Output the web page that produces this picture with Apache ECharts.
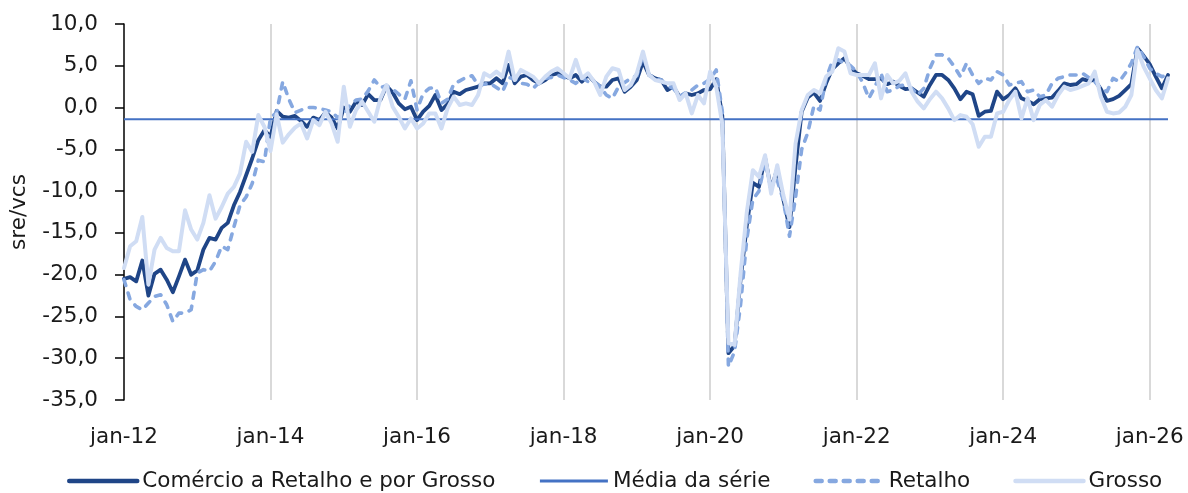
<!DOCTYPE html>
<html>
<head>
<meta charset="utf-8">
<title>Comércio a Retalho e por Grosso</title>
<script src="https://cdn.jsdelivr.net/npm/echarts@6/dist/echarts.min.js"></script>
<style>
    html, body { margin: 0; padding: 0; background: #fff; }
    #main { width: 1188px; height: 493px; }
</style>
</head>
<body>
<div id="main"></div>
<script>
// months jan-12 .. abr-26
const monthNames = ['jan', 'fev', 'mar', 'abr', 'mai', 'jun', 'jul', 'ago', 'set', 'out', 'nov', 'dez'];
const firstYear = 12;
const nMonths = 172;

// Comércio a Retalho e por Grosso (sre/vcs)
const comercioValues = [
    -20.5, -20.3, -20.8, -18.3, -22.5, -19.9, -19.4, -20.6, -22.1, -20.2, -18.2, -20.0,
    -19.5, -17.0, -15.6, -15.8, -14.4, -13.8, -11.7, -10.1, -8.1, -6.1, -3.9, -2.7,
    -3.5, -0.4, -1.1, -1.2, -1.0, -1.6, -2.3, -1.2, -1.5, -0.6, -1.2, -2.5,
    0.0, -0.5, 0.7, 0.3, 1.6, 0.9, 0.9, 2.6, 1.8, 0.5, -0.2, 0.1,
    -1.5, -0.5, 0.2, 1.5, -0.3, 0.4, 1.9, 1.6, 2.1, 2.3, 2.5, 2.9,
    2.9, 3.5, 2.9, 5.1, 2.9, 3.7, 3.9, 3.3, 2.9, 3.3, 3.9, 4.1,
    3.8, 3.5, 3.9, 3.1, 3.9, 3.1, 2.5, 2.5, 3.3, 3.5, 1.9, 2.5,
    3.3, 5.5, 3.9, 3.5, 3.3, 2.1, 2.5, 1.3, 1.7, 1.5, 1.7, 2.1,
    2.2, 3.4, -1.0, -29.4, -28.5, -20.5, -14.2, -9.0, -9.5, -6.0, -9.8, -7.3,
    -11.0, -14.3, -7.0, -0.5, 1.2, 1.8, 0.8, 2.9, 4.6, 5.3, 5.9, 4.8,
    4.1, 3.8, 3.4, 3.4, 3.5, 2.8, 3.1, 2.6, 2.2, 2.3, 1.8, 1.3,
    2.7, 3.9, 3.9, 3.3, 2.3, 1.0, 1.9, 1.6, -1.0, -0.5, -0.4, 1.9,
    1.0, 1.5, 2.3, 1.1, 0.8, 0.4, 1.0, 1.1, 1.2, 2.0, 2.9, 2.7,
    2.8, 3.4, 3.2, 3.3, 2.2, 0.8, 1.0, 1.4, 2.1, 2.8, 7.1, 6.2,
    5.2, 3.7, 2.3, 3.9
];

// Retalho
const retalhoValues = [
    -20.6, -23.0, -23.8, -24.2, -23.4, -22.6, -22.4, -23.6, -25.6, -24.6, -24.6, -24.2,
    -19.8, -19.4, -19.6, -18.4, -16.6, -17.0, -14.3, -11.7, -10.7, -9.1, -6.3, -6.5,
    -1.2, -0.6, 3.1, 1.0, -0.6, -0.3, 0.0, 0.0, -0.1, -0.3, -0.5, -1.2,
    -0.8, 0.3, 0.9, 1.0, 2.0, 3.3, 2.4, 2.6, 2.2, 1.6, 1.0, 3.2,
    -0.3, 1.7, 2.3, 2.4, 0.5, 1.0, 2.8, 3.2, 3.6, 3.8, 2.7, 2.8,
    2.9, 2.4, 1.9, 3.6, 3.4, 2.9, 2.8, 2.3, 3.0, 3.5, 3.6, 3.9,
    3.6, 3.3, 2.9, 3.6, 3.1, 3.1, 2.5, 1.5, 1.1, 2.5, 3.0, 3.5,
    3.8, 6.3, 3.9, 3.5, 3.3, 2.6, 2.3, 1.3, 1.8, 2.1, 2.7, 2.9,
    3.4, 4.5, -0.5, -31.0, -29.2, -23.5, -15.8, -11.0, -10.0, -6.5, -9.5, -8.7,
    -11.1, -15.4, -10.7, -5.0, -3.0, 0.2, -0.3, 3.5, 5.5, 5.7, 5.3, 5.0,
    4.3, 3.0, 1.1, 2.5, 4.1, 1.9, 2.1, 2.6, 2.7, 2.3, 1.5, 2.3,
    4.7, 6.3, 6.3, 5.9, 4.9, 3.7, 5.3, 3.9, 2.9, 3.5, 3.3, 4.3,
    3.9, 2.7, 2.9, 3.1, 1.9, 2.1, 1.3, 1.5, 2.9, 3.5, 3.7, 3.9,
    3.9, 4.1, 3.6, 3.1, 2.3, 1.9, 3.5, 3.1, 4.1, 5.3, 7.3, 6.1,
    4.7, 4.1, 3.7, 3.9
];

// Grosso
const grossoValues = [
    -19.2, -16.6, -16.0, -13.1, -21.2, -17.0, -15.6, -16.8, -17.2, -17.2, -12.3, -14.6,
    -15.8, -13.8, -10.5, -13.3, -11.9, -10.3, -9.5, -7.9, -4.1, -5.3, -0.9, -2.3,
    -5.2, -0.8, -4.2, -3.2, -2.4, -1.9, -3.7, -1.5, -2.1, -0.5, -1.9, -4.1,
    2.5, -2.3, -0.3, 0.7, -0.5, -1.7, 1.1, 2.7, 0.1, -1.1, -2.5, -1.3,
    -2.5, -1.9, -0.7, -0.7, -2.5, -0.1, 1.3, 0.3, 0.5, 0.3, 1.5, 4.1,
    3.7, 4.3, 3.7, 6.7, 3.3, 4.5, 4.1, 3.7, 2.9, 3.7, 4.3, 4.7,
    4.1, 3.5, 5.7, 3.5, 4.1, 3.1, 1.5, 3.7, 4.7, 4.5, 2.1, 2.7,
    4.1, 6.7, 3.9, 3.3, 3.1, 2.9, 2.9, 0.9, 1.7, -0.7, 1.5, 0.5,
    4.3, 2.5, -2.0, -28.2, -28.4, -19.8, -12.6, -7.5, -8.3, -5.7, -10.3, -6.9,
    -10.5, -13.4, -4.3, -0.3, 1.5, 2.1, 1.7, 3.7, 4.3, 7.1, 6.7, 4.1,
    3.9, 3.9, 3.9, 5.3, 1.1, 3.9, 2.9, 3.2, 4.1, 1.9, 0.7, -0.1,
    1.0, 1.9, 1.1, -0.1, -1.5, -0.9, -1.1, -2.0, -4.7, -3.5, -3.5, -0.7,
    -0.5, 0.9, 1.9, -1.3, 1.1, -1.5, 0.3, 0.9, 0.1, 1.5, 2.5, 2.1,
    2.3, 2.6, 2.9, 4.3, 1.3, -0.5, -0.7, -0.6, 0.1, 1.5, 6.9, 4.9,
    3.5, 2.1, 1.1, 3.5
];

// média da série (valor constante)
const mediaSerie = -1.4;

// y axis ticks
const yMin = -35;
const yMax = 10;
const yStep = 5;

let months = [];
for (let i = 0; i < nMonths; i++) {
    let yy = firstYear + Math.floor(i / 12);
    months.push(monthNames[i % 12] + '-' + yy);
}
let mediaValues = months.map(() => mediaSerie);

const fontName = 'DejaVu Sans';
const fontSize = 21.5;
const textColor = '#1a1a1a';

const colors = {
    comercio: '#1f4587',
    media: '#4472c4',
    retalho: '#86a8e0',
    grosso: '#d0ddf4'
};

const option = {
    animation: false,
    backgroundColor: '#fff',
    textStyle: { fontFamily: fontName },
    grid: {
        left: 124,
        right: 20,
        top: 24,
        bottom: 93,
        containLabel: false
    },
    legend: {
        left: 62,
        top: 465,
        itemWidth: 68,
        itemHeight: 14,
        itemGap: 43,
        // hide the round symbol, keep only the line
        itemStyle: { opacity: 0 },
        textStyle: { fontFamily: fontName, fontSize: fontSize, color: textColor },
        data: [
            { name: 'Comércio a Retalho e por Grosso', lineStyle: { width: 4.5 } },
            { name: 'Média da série', lineStyle: { width: 3 } },
            { name: 'Retalho', lineStyle: { width: 4.5 } },
            { name: 'Grosso', lineStyle: { width: 4.5 } }
        ]
    },
    xAxis: {
        type: 'category',
        data: months,
        boundaryGap: false,
        axisLine: { show: false },
        axisTick: { show: false },
        axisLabel: {
            interval: 23,
            margin: 26,
            fontFamily: fontName,
            fontSize: fontSize,
            color: textColor
        },
        splitLine: {
            show: true,
            interval: (i) => i > 0 && i % 24 === 0,
            lineStyle: { color: '#d9d9d9', width: 2 }
        }
    },
    yAxis: {
        type: 'value',
        min: yMin,
        max: yMax,
        interval: yStep,
        name: 'sre/vcs',
        nameLocation: 'middle',
        nameGap: 94,
        nameRotate: 90,
        nameTextStyle: { fontFamily: fontName, fontSize: fontSize, color: textColor },
        axisLine: { show: true, lineStyle: { color: '#000', width: 1.5 } },
        axisTick: { show: true, inside: false, length: 9, lineStyle: { color: '#000', width: 1.5 } },
        axisLabel: {
            margin: 26,
            fontFamily: fontName,
            fontSize: fontSize,
            color: textColor,
            formatter: (v) => v.toFixed(1).replace('.', ',')
        },
        splitLine: { show: false }
    },
    series: [
        {
            name: 'Comércio a Retalho e por Grosso',
            type: 'line',
            data: comercioValues,
            symbol: 'none',
            color: colors.comercio,
            lineStyle: { color: colors.comercio, width: 3.8, cap: 'round', join: 'round' }
        },
        {
            name: 'Média da série',
            type: 'line',
            data: mediaValues,
            symbol: 'none',
            color: colors.media,
            lineStyle: { color: colors.media, width: 2.2 }
        },
        {
            name: 'Retalho',
            type: 'line',
            data: retalhoValues,
            symbol: 'none',
            color: colors.retalho,
            lineStyle: { color: colors.retalho, width: 3.6, type: [6, 8], cap: 'round', join: 'round' }
        },
        {
            name: 'Grosso',
            type: 'line',
            data: grossoValues,
            symbol: 'none',
            color: colors.grosso,
            lineStyle: { color: colors.grosso, width: 4, cap: 'round', join: 'round' }
        }
    ]
};

let plot = echarts.init(document.querySelector('#main'), null, { renderer: 'canvas' });
plot.setOption(option);
</script>
</body>
</html>
